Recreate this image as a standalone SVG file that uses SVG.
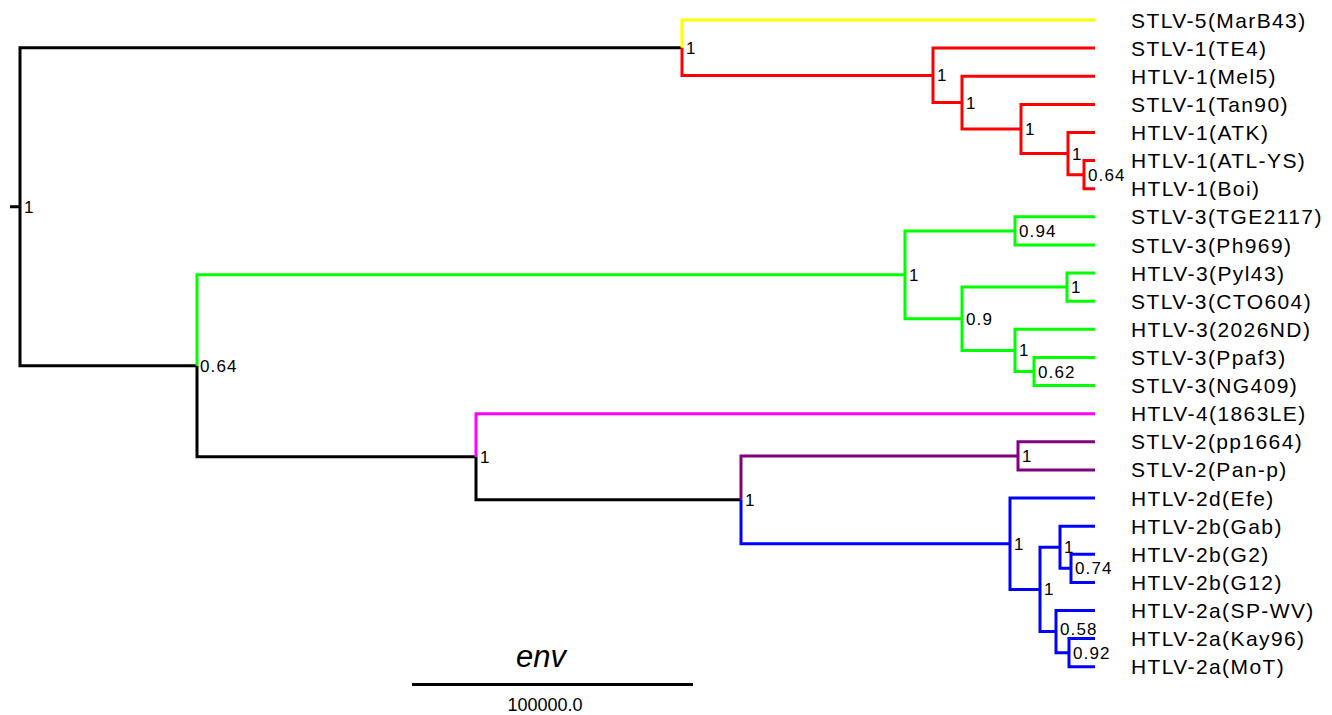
<svg xmlns="http://www.w3.org/2000/svg" width="1332" height="715" viewBox="0 0 1332 715">
<style>
.e{fill:none;stroke-width:3;stroke-linejoin:miter;stroke-linecap:butt}
.k{stroke:#000}.y{stroke:#ffff00}.r{stroke:#ff0000}.g{stroke:#00ff00}.m{stroke:#ff00ff}.p{stroke:#800080}.b{stroke:#0000ff}
.t{font-family:"Liberation Sans",Arial,sans-serif;font-size:21px;letter-spacing:1.4px;fill:#000}
.s{font-family:"Liberation Sans",Arial,sans-serif;font-size:17px;letter-spacing:1.1px;fill:#000}
</style>
<rect width="1332" height="715" fill="#fff"/>
<g id="connectors">
<path class="e k" d="M10,206.7H20M20,206.7V47.7H682M20,206.7V365.8H197M197,365.8V456.7H476M476,456.7V499.8H741"/>
<path class="e y" d="M682,47.7V20H1095"/>
<path class="e r" d="M682,47.7V75.4H933M933,75.4V48.1H1095M933,75.4V102.6H962M962,102.6V76.2H1095M962,102.6V129H1021M1021,129V104.4H1095M1021,129V153.6H1068M1068,153.6V132.5H1095M1068,153.6V174.7H1084M1084,174.7V160.6H1095M1084,174.7V188.7H1095"/>
<path class="e g" d="M197,365.8V274.8H905M905,274.8V230.9H1015M1015,230.9V216.8H1095M1015,230.9V245H1095M905,274.8V318.8H962M962,318.8V287.1H1067M1067,287.1V273.1H1095M1067,287.1V301.2H1095M962,318.8V350.4H1015M1015,350.4V329.3H1095M1015,350.4V371.5H1034M1034,371.5V357.4H1095M1034,371.5V385.6H1095"/>
<path class="e m" d="M476,456.7V413.7H1095"/>
<path class="e p" d="M741,499.8V455.9H1018M1018,455.9V441.8H1095M1018,455.9V469.9H1095"/>
<path class="e b" d="M741,499.8V543.7H1010M1010,543.7V498H1095M1010,543.7V589.4H1040M1040,589.4V547.3H1060M1060,547.3V526.2H1095M1060,547.3V568.3H1071M1071,568.3V554.3H1095M1071,568.3V582.4H1095M1040,589.4V631.6H1056M1056,631.6V610.5H1095M1056,631.6V652.7H1069M1069,652.7V638.6H1095M1069,652.7V666.8H1095"/>
</g>
<g id="tips">
<g id="tip-0"><text class="t" x="1131" y="27.5">STLV-5(MarB43)</text></g>
<g id="tip-1"><text class="t" x="1131" y="55.6">STLV-1(TE4)</text></g>
<g id="tip-2"><text class="t" x="1131" y="83.7">HTLV-1(Mel5)</text></g>
<g id="tip-3"><text class="t" x="1131" y="111.9">STLV-1(Tan90)</text></g>
<g id="tip-4"><text class="t" x="1131" y="140">HTLV-1(ATK)</text></g>
<g id="tip-5"><text class="t" x="1131" y="168.1">HTLV-1(ATL-YS)</text></g>
<g id="tip-6"><text class="t" x="1131" y="196.2">HTLV-1(Boi)</text></g>
<g id="tip-7"><text class="t" x="1131" y="224.3">STLV-3(TGE2117)</text></g>
<g id="tip-8"><text class="t" x="1131" y="252.5">STLV-3(Ph969)</text></g>
<g id="tip-9"><text class="t" x="1131" y="280.6">HTLV-3(Pyl43)</text></g>
<g id="tip-10"><text class="t" x="1131" y="308.7">STLV-3(CTO604)</text></g>
<g id="tip-11"><text class="t" x="1131" y="336.8">HTLV-3(2026ND)</text></g>
<g id="tip-12"><text class="t" x="1131" y="364.9">STLV-3(Ppaf3)</text></g>
<g id="tip-13"><text class="t" x="1131" y="393.1">STLV-3(NG409)</text></g>
<g id="tip-14"><text class="t" x="1131" y="421.2">HTLV-4(1863LE)</text></g>
<g id="tip-15"><text class="t" x="1131" y="449.3">STLV-2(pp1664)</text></g>
<g id="tip-16"><text class="t" x="1131" y="477.4">STLV-2(Pan-p)</text></g>
<g id="tip-17"><text class="t" x="1131" y="505.5">HTLV-2d(Efe)</text></g>
<g id="tip-18"><text class="t" x="1131" y="533.7">HTLV-2b(Gab)</text></g>
<g id="tip-19"><text class="t" x="1131" y="561.8">HTLV-2b(G2)</text></g>
<g id="tip-20"><text class="t" x="1131" y="589.9">HTLV-2b(G12)</text></g>
<g id="tip-21"><text class="t" x="1131" y="618">HTLV-2a(SP-WV)</text></g>
<g id="tip-22"><text class="t" x="1131" y="646.1">HTLV-2a(Kay96)</text></g>
<g id="tip-23"><text class="t" x="1131" y="674.3">HTLV-2a(MoT)</text></g>
</g>
<g id="internal">
<g id="n-root"><text class="s" x="24" y="212.7">1</text></g>
<g id="n-197"><text class="s" x="200" y="371.8">0.64</text></g>
<g id="n-682"><text class="s" x="686" y="53.7">1</text></g>
<g id="n-933"><text class="s" x="937" y="81.4">1</text></g>
<g id="n-962a"><text class="s" x="966" y="108.6">1</text></g>
<g id="n-1021"><text class="s" x="1025" y="135">1</text></g>
<g id="n-1068"><text class="s" x="1072" y="159.6">1</text></g>
<g id="n-1084"><text class="s" x="1088" y="180.7">0.64</text></g>
<g id="n-905"><text class="s" x="909" y="280.8">1</text></g>
<g id="n-1015a"><text class="s" x="1019" y="236.9">0.94</text></g>
<g id="n-962b"><text class="s" x="966" y="324.8">0.9</text></g>
<g id="n-1067"><text class="s" x="1071" y="293.1">1</text></g>
<g id="n-1015b"><text class="s" x="1019" y="356.4">1</text></g>
<g id="n-1034"><text class="s" x="1038" y="377.5">0.62</text></g>
<g id="n-476"><text class="s" x="480" y="462.7">1</text></g>
<g id="n-741"><text class="s" x="745" y="505.8">1</text></g>
<g id="n-1018"><text class="s" x="1022" y="461.9">1</text></g>
<g id="n-1010"><text class="s" x="1014" y="549.7">1</text></g>
<g id="n-1040"><text class="s" x="1044" y="595.4">1</text></g>
<g id="n-1060"><text class="s" x="1064" y="553.3">1</text></g>
<g id="n-1071"><text class="s" x="1075" y="574.3">0.74</text></g>
<g id="n-1056"><text class="s" x="1060" y="635">0.58</text></g>
<g id="n-1069"><text class="s" x="1073" y="658.7">0.92</text></g>
</g>
<g id="scale">
<text x="541" y="667" text-anchor="middle" font-family="Liberation Sans, Arial, sans-serif" font-size="31" font-style="italic">env</text>
<line x1="412" y1="684.5" x2="693" y2="684.5" stroke="#000" stroke-width="3"/>
<text x="545" y="711" text-anchor="middle" font-family="Liberation Sans, Arial, sans-serif" font-size="18">100000.0</text>
</g>
</svg>
